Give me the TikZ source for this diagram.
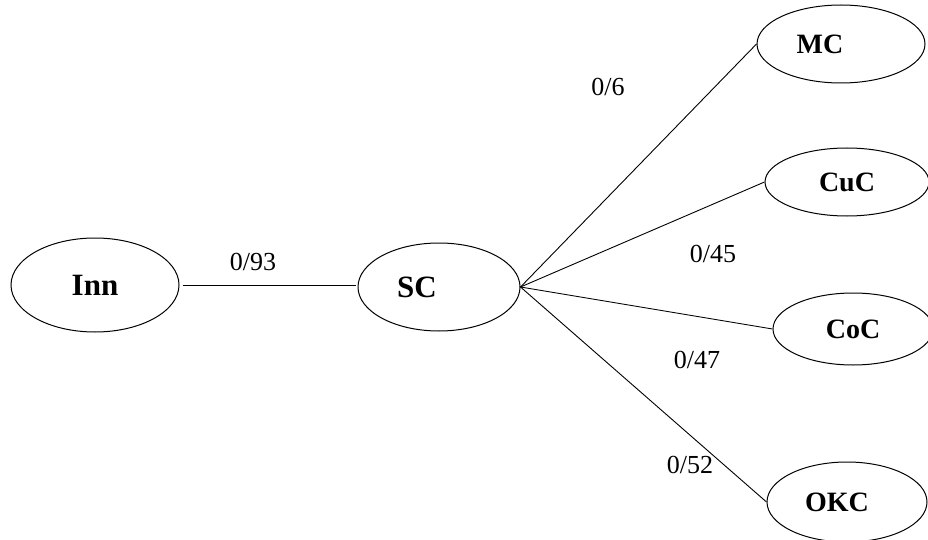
\documentclass[tikz,border=0pt]{standalone}
\usepackage{fontspec}
\setmainfont{Liberation Serif}
\usetikzlibrary{shapes.geometric}
\begin{document}
\begin{tikzpicture}[x=1pt,y=-1pt,
  cnode/.style={draw,ellipse,line width=1pt,inner sep=0pt,font=\fontsize{28}{30}\selectfont\bfseries},
  bignode/.style={cnode,font=\fontsize{31}{33}\selectfont\bfseries},
  elabel/.style={font=\fontsize{26}{28}\selectfont,inner sep=0pt},
  conn/.style={line width=0.9pt}]
\useasboundingbox (0,0) rectangle (928,540);
\clip (0,0) rectangle (928,540);
\node[bignode,minimum width=168pt,minimum height=94pt] (Inn) at (95,285) {Inn};
\node[bignode,minimum width=162pt,minimum height=88pt] (SC) at (439,287) {\kern-22pt SC\kern22pt};
\node[cnode,minimum width=168pt,minimum height=78pt] (MC) at (841,44) {\kern-21pt MC\kern21pt};
\node[cnode,minimum width=164pt,minimum height=68pt] (CuC) at (847,182) {CuC};
\node[cnode,minimum width=160pt,minimum height=72pt] (CoC) at (853,329) {CoC};
\node[cnode,minimum width=160pt,minimum height=80pt] (OKC) at (847,502) {\kern-10pt OKC\kern10pt};
\draw[conn,shorten <=3pt,shorten >=2pt] (Inn.east) -- (Inn.east -| SC.west);
\draw[conn] (SC.east) -- (MC.west);
\draw[conn] (SC.east) -- (CuC.west);
\draw[conn] (SC.east) -- (CoC.west);
\draw[conn] (SC.east) -- (OKC.west);
\node[elabel] (l93) at (253,262) {0/93};
\node[elabel] (l6) at (608,87) {0/6};
\node[elabel] (l45) at (713,254) {0/45};
\node[elabel] (l47) at (697,360) {0/47};
\node[elabel] (l52) at (690,465) {0/52};
\end{tikzpicture}
\end{document}
